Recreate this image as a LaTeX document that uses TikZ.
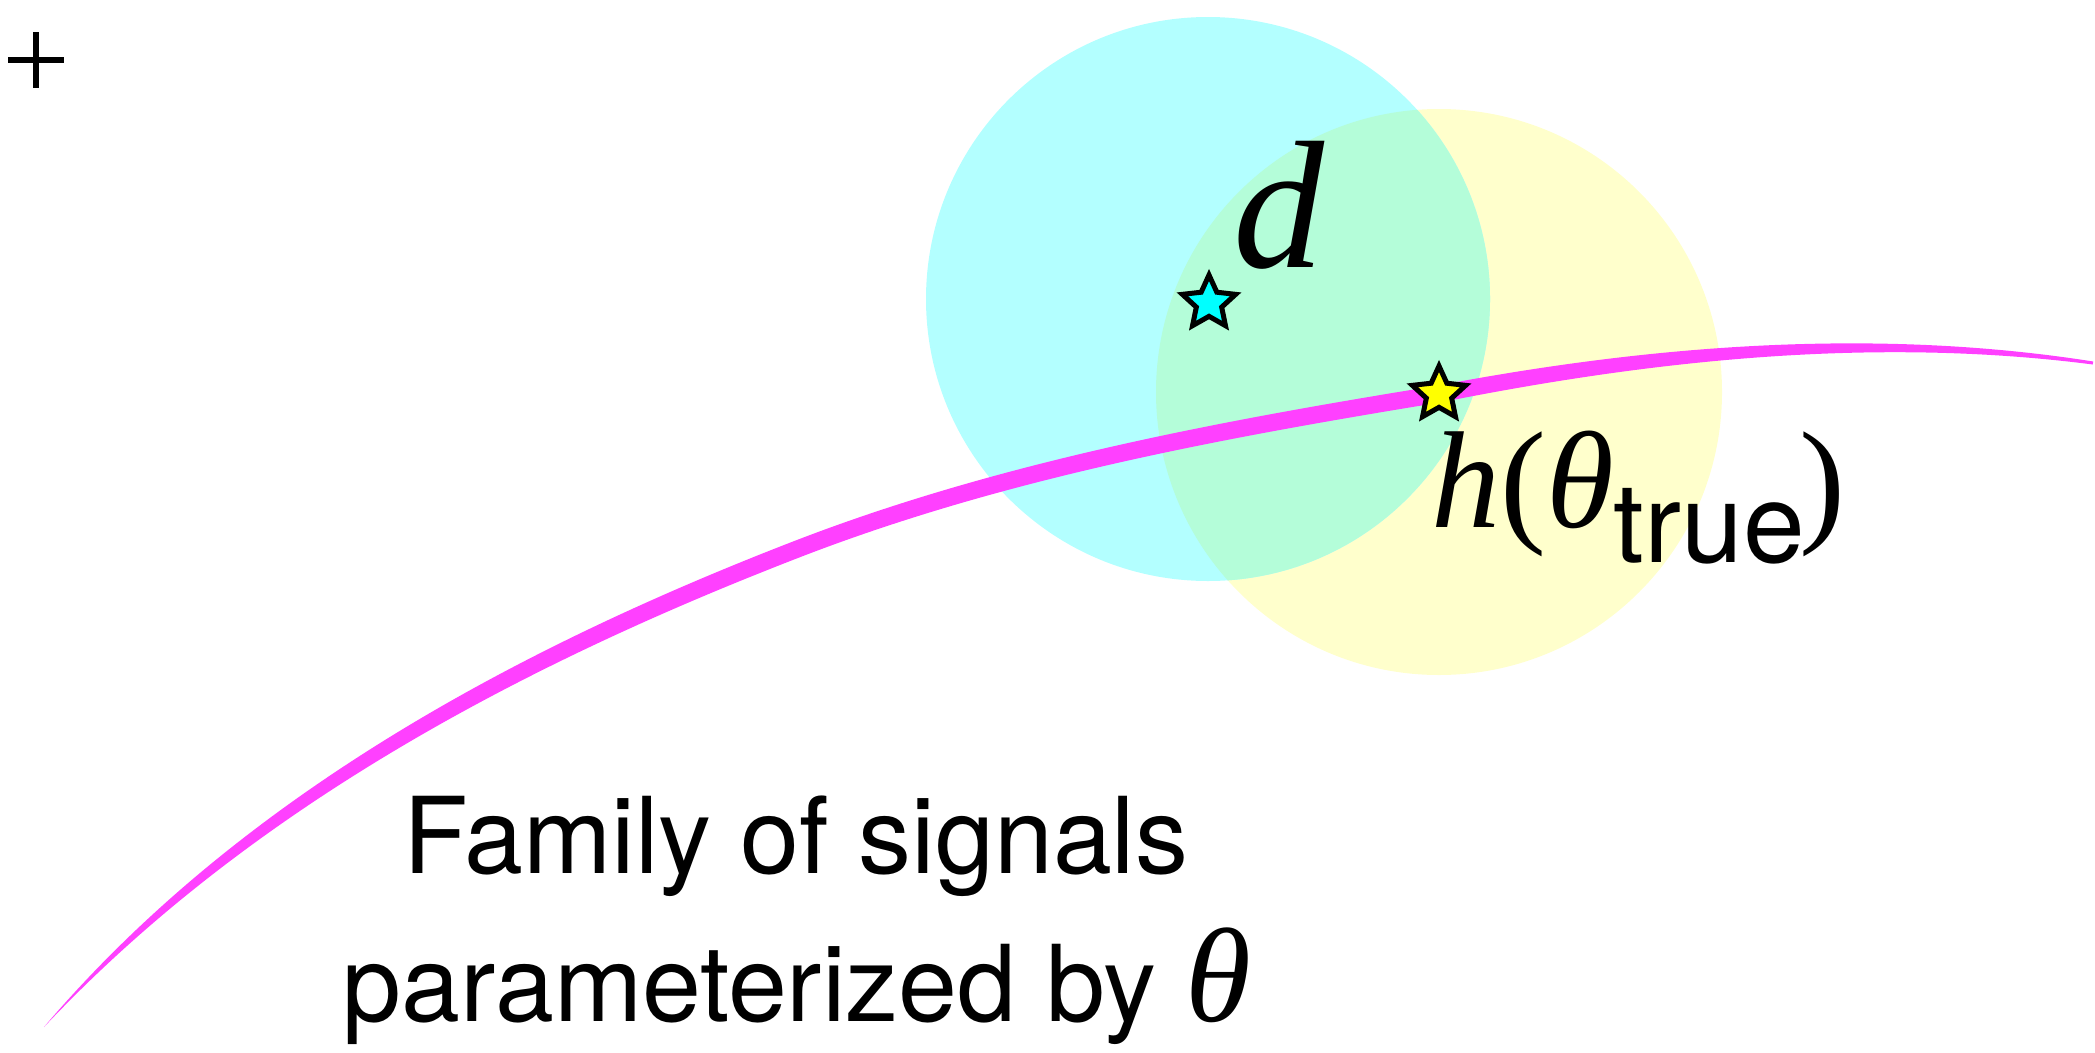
\documentclass[tikz,border=0pt]{standalone}
\usepackage{fontspec}
\setmainfont{TeX Gyre Heros}
\newfontfamily\tm{Liberation Serif}
\usetikzlibrary{shapes.geometric}
\definecolor{cyanbg}{RGB}{179,255,255}
\definecolor{yellowbg}{RGB}{255,255,204}
\definecolor{overlapbg}{RGB}{180,253,217}
\definecolor{curvemag}{RGB}{255,64,255}
\definecolor{starcyan}{RGB}{0,255,255}
\definecolor{staryellow}{RGB}{255,255,0}
\tikzset{
  starmark/.style={star, star points=5, star point ratio=2.1, minimum size=56pt,
    inner sep=0pt, draw=black, line width=5pt},
  lbl/.style={inner sep=0pt, anchor=base west},
  famtext/.style={inner sep=0pt, anchor=base, font=\fontsize{106}{106}\selectfont},
}
\begin{document}
\begin{tikzpicture}[x=1pt,y=-1pt]
\useasboundingbox (0,0) rectangle (2095,1052);
% plus sign
\draw[line width=5.5pt] (8,60) -- (64,60) (36,32) -- (36,88);
% circles
\coordinate (dc) at (1208,299);
\coordinate (hc) at (1439,392);
\fill[yellowbg] (hc) circle[radius=283pt];
\fill[cyanbg] (dc) circle[radius=282pt];
\begin{scope}
  \clip (dc) circle[radius=282pt];
  \fill[overlapbg] (hc) circle[radius=283pt];
\end{scope}
% family curve (tapered brush stroke)
\coordinate (ctip) at (44,1027);
\coordinate (cend) at (2093,363);
\fill[curvemag] (ctip)
  .. controls (240.0,796.5) and (516.9,648.0) .. (796.9,540.0)
  .. controls (1001.2,461.4) and (1221.4,420.6) .. (1437.6,385.6)
  .. controls (1653.0,344.6) and (1877.0,327.5) .. (2093.2,361.5)
  -- (2092.8,364.5)
  .. controls (1876.0,336.5) and (1655.4,359.4) .. (1440.4,402.4)
  .. controls (1224.2,437.7) and (1007.4,477.4) .. (803.1,556.0)
  .. controls (523.1,664.0) and (251.0,807.5) .. (ctip) -- cycle;
% stars
\node[starmark, fill=starcyan] (dstar) at (1209,303) {};
\node[starmark, fill=staryellow] (hstar) at (1439,394) {};
% labels
\node[lbl, font=\tm\itshape\fontsize{182}{182}\selectfont] (dlabel) at (1233,267) {d};
\node[lbl, font=\tm\fontsize{138}{138}\selectfont] (hlabel) at (1431,527)
  {\itshape h\/\upshape(\itshape θ\/\raisebox{-35pt}{\normalfont\fontsize{111}{111}\selectfont true}\kern-6pt\upshape)};
\node[famtext] (fam1) at (796,873) {Family of signals};
\node[famtext] (fam2) at (797,1021) {parameterized by {\tm\itshape\fontsize{134}{134}\selectfont θ}};
\end{tikzpicture}
\end{document}
